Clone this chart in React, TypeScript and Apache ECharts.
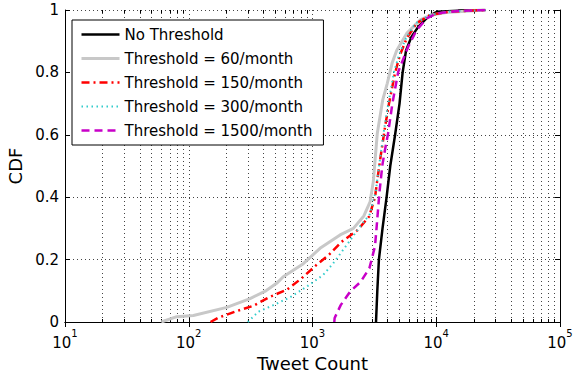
import React, { useEffect, useRef } from "react";
import * as echarts from "echarts";

const FONT = "DejaVu Sans";

const seriesNames = [
  "No Threshold",
  "Threshold = 60/month",
  "Threshold = 150/month",
  "Threshold = 300/month",
  "Threshold = 1500/month",
];

// Tweet counts (x) and CDF values (y)
const noThresholdX = [3260, 3340, 3440, 3680, 3970, 4250, 4650, 5050, 5350, 5700, 6300, 7150, 8600, 10100, 15000, 25000];
const noThresholdY = [0, 0.1, 0.2, 0.3, 0.4, 0.5, 0.6, 0.7, 0.8, 0.87, 0.914, 0.946, 0.979, 0.994, 0.998, 1];

const t60X = [60, 80, 109, 203, 313, 420, 513, 580, 843, 1150, 1670, 2140, 2600, 2920, 3100, 3340, 3690, 4020, 4400, 4790, 5770, 7400, 9180, 12000, 25000];
const t60Y = [0, 0.017, 0.021, 0.047, 0.075, 0.1, 0.124, 0.145, 0.187, 0.236, 0.279, 0.3, 0.34, 0.385, 0.45, 0.605, 0.711, 0.765, 0.83, 0.87, 0.925, 0.968, 0.984, 0.992, 1];

const t150X = [150, 174, 244, 333, 454, 618, 817, 1050, 1370, 1720, 2290, 2870, 3200, 3340, 3550, 3860, 4150, 4640, 5090, 5770, 6920, 9000, 13000, 25000];
const t150Y = [0, 0.014, 0.035, 0.052, 0.081, 0.103, 0.14, 0.179, 0.217, 0.257, 0.293, 0.338, 0.4, 0.455, 0.53, 0.626, 0.7, 0.797, 0.856, 0.909, 0.957, 0.985, 0.995, 1];

const t300X = [300, 365, 482, 657, 897, 1220, 1470, 1650, 2000, 2420, 2900, 3250, 3450, 3800, 4100, 4550, 5000, 5700, 6800, 9000, 13000, 25000];
const t300Y = [0, 0.033, 0.054, 0.079, 0.113, 0.151, 0.188, 0.215, 0.26, 0.306, 0.345, 0.42, 0.5, 0.62, 0.7, 0.8, 0.856, 0.91, 0.957, 0.985, 0.995, 1];

const t1500X = [1500, 1510, 1690, 2010, 2450, 2880, 3200, 3300, 3470, 3670, 3870, 4080, 4420, 4930, 5940, 6950, 8380, 10000, 15000, 25000];
const t1500Y = [0, 0.013, 0.054, 0.097, 0.129, 0.172, 0.243, 0.306, 0.413, 0.503, 0.556, 0.604, 0.7, 0.802, 0.883, 0.936, 0.973, 0.989, 0.997, 1];

const minorGridX = [
  20, 30, 40, 50, 60, 70, 80, 90,
  200, 300, 400, 500, 600, 700, 800, 900,
  2000, 3000, 4000, 5000, 6000, 7000, 8000, 9000,
  20000, 30000, 40000, 50000, 60000, 70000, 80000, 90000,
];

const xMin = 10;
const xMax = 100000;

const zip = (xs: number[], ys: number[]) => xs.map((x, i) => [x, ys[i]]);

export default function App() {
  const ref = useRef<HTMLDivElement>(null);
  useEffect(() => {
    if (!ref.current) return;
    const chart = echarts.init(ref.current, undefined, { renderer: "svg" });
    const gridDot = { color: "#444", width: 1, type: [1, 3] as number[] };
    const mk = (
      name: string,
      xs: number[],
      ys: number[],
      color: string,
      width: number,
      type: any,
      z: number
    ) => ({
      name,
      type: "line",
      data: zip(xs, ys),
      showSymbol: false,
      symbol: "none",
      z,
      lineStyle: { color, width, type },
      itemStyle: { color },
    });
    chart.setOption({
      animation: false,
      backgroundColor: "#fff",
      grid: { left: 65, right: 14, top: 10, bottom: 52, containLabel: false, outerBoundsMode: "none" },
      legend: {
        data: seriesNames,
        orient: "vertical",
        left: 72,
        top: 20,
        padding: [7, 11, 7, 8],
        itemWidth: 38,
        itemHeight: 14,
        itemGap: 9,
        backgroundColor: "#fff",
        borderColor: "#000",
        borderWidth: 1,
        borderRadius: 0,
        textStyle: { fontFamily: FONT, fontSize: 15, color: "#000" },
        itemStyle: { opacity: 0, borderWidth: 0 },
        lineStyle: { width: "inherit", opacity: 1 },
      },
      xAxis: [
        {
          type: "log",
          logBase: 10,
          min: xMin,
          max: xMax,
          name: "Tweet Count",
          nameLocation: "middle",
          nameGap: 30,
          nameTextStyle: { fontFamily: FONT, fontSize: 18, color: "#000" },
          axisLine: { show: true, lineStyle: { color: "#000", width: 1 } },
          axisTick: { show: true, inside: true, length: 5, lineStyle: { color: "#000" } },
          splitLine: { show: true, lineStyle: gridDot },
          minorTick: { show: false },
          axisLabel: {
            margin: 6,
            formatter: (v: number) => `{b|10}{s|${Math.round(Math.log10(v))}}`,
            rich: {
              b: { fontFamily: FONT, fontSize: 15, color: "#000", padding: [7, 0, 0, 0], verticalAlign: "bottom" },
              s: { fontFamily: FONT, fontSize: 10, color: "#000", verticalAlign: "top" },
            },
          },
        },
        {
          type: "log",
          logBase: 10,
          min: xMin,
          max: xMax,
          position: "top",
          axisLine: { show: true, lineStyle: { color: "#000", width: 1 } },
          axisTick: { show: true, inside: true, length: 5, lineStyle: { color: "#000" } },
          axisLabel: { show: false },
          splitLine: { show: false },
        },
      ],
      yAxis: [
        {
          type: "value",
          min: 0,
          max: 1,
          interval: 0.2,
          name: "CDF",
          nameLocation: "middle",
          nameGap: 38,
          nameTextStyle: { fontFamily: FONT, fontSize: 18, color: "#000" },
          axisLine: { show: true, lineStyle: { color: "#000", width: 1 } },
          axisTick: { show: true, inside: true, length: 5, lineStyle: { color: "#000" } },
          splitLine: { show: true, lineStyle: gridDot },
          axisLabel: { fontFamily: FONT, fontSize: 15, color: "#000", margin: 6 },
        },
        {
          type: "value",
          min: 0,
          max: 1,
          interval: 0.2,
          position: "right",
          axisLine: { show: true, lineStyle: { color: "#000", width: 1 } },
          axisTick: { show: true, inside: true, length: 5, lineStyle: { color: "#000" } },
          axisLabel: { show: false },
          splitLine: { show: false },
        },
      ],
      series: [
        {
          name: "minorGrid",
          type: "custom",
          silent: true,
          z: 1,
          xAxisIndex: 0,
          yAxisIndex: 0,
          data: minorGridX.map((v) => [v, 0]),
          renderItem: (_params: any, api: any) => {
            const v = api.value(0);
            const p0 = api.coord([v, 0]);
            const p1 = api.coord([v, 1]);
            const x = Math.round(p0[0]) + 0.5;
            return {
              type: "group",
              children: [
                {
                  type: "line",
                  shape: { x1: x, y1: p0[1], x2: x, y2: p1[1] },
                  style: { stroke: "#444", lineWidth: 1, lineDash: [1, 3] },
                },
                {
                  type: "line",
                  shape: { x1: x, y1: p0[1], x2: x, y2: p0[1] - 3 },
                  style: { stroke: "#000", lineWidth: 1 },
                },
                {
                  type: "line",
                  shape: { x1: x, y1: p1[1], x2: x, y2: p1[1] + 3 },
                  style: { stroke: "#000", lineWidth: 1 },
                },
              ],
            };
          },
        },
        mk(seriesNames[0], noThresholdX, noThresholdY, "#000000", 2.5, "solid", 3),
        mk(seriesNames[1], t60X, t60Y, "#c8c8c8", 3, "solid", 4),
        mk(seriesNames[2], t150X, t150Y, "#ff0000", 2.5, [8, 4, 2, 4], 5),
        mk(seriesNames[3], t300X, t300Y, "#33cccc", 2, [1.5, 3.5], 6),
        mk(seriesNames[4], t1500X, t1500Y, "#c800c8", 2.5, [8, 5], 7),
      ],
    });
    return () => chart.dispose();
  }, []);
  return (
    <div
      ref={ref}
      style={{ position: "fixed", left: 0, top: 0, width: 574, height: 374 }}
    />
  );
}
